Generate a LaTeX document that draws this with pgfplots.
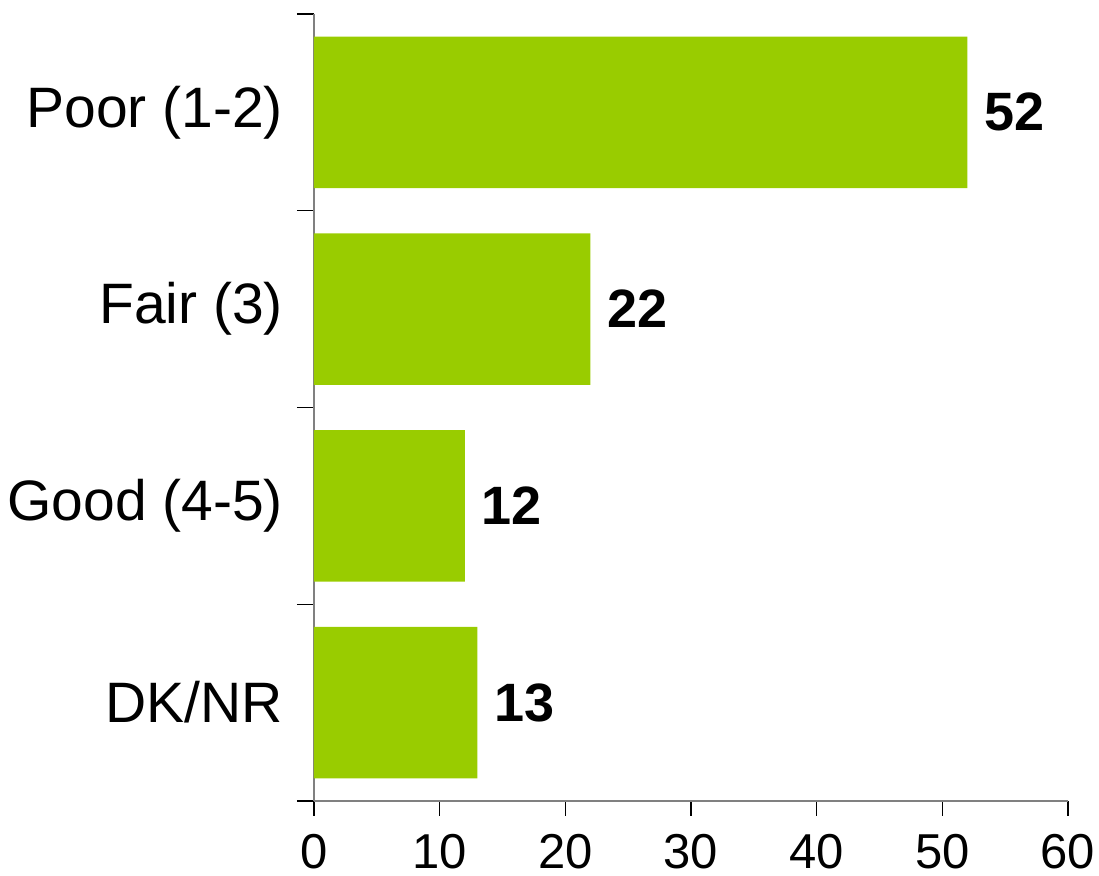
\documentclass[border=0pt]{standalone}
\usepackage{pgfplots}
\pgfplotsset{compat=1.18}
\usepackage{fontspec}
\setmainfont{Liberation Sans}
\usetikzlibrary{calc}
\definecolor{bargreen}{HTML}{99CC00}
\definecolor{axisgray}{HTML}{808080}
\begin{document}
\begin{tikzpicture}
  \begin{axis}[
      scale only axis,
      width=377pt, height=393.5pt,
      xbar,
      xmin=0, xmax=60,
      ymin=-0.5, ymax=3.5,
      y dir=reverse,
      axis lines=left,
      axis line style={axisgray, line width=1pt, -},
      xtick={0,10,...,60},
      ytick={0,1,2,3},
      yticklabels={Poor (1-2),Fair (3),Good (4-5),DK/NR},
      minor ytick={-0.5,0.5,1.5,2.5,3.5},
      y tick style={draw=none},
      minor y tick style={draw=black, line width=0.6pt},
      minor tick length=8.5pt,
      x tick style={black, line width=0.6pt},
      major tick length=7.5pt,
      tick align=outside,
      xtick pos=bottom, ytick pos=left,
      /pgf/number format/assume math mode=true,
      yticklabel style={font=\fontsize{28.5}{34}\selectfont, xshift=-4.5pt},
      xticklabel style={font=\fontsize{24.5}{30}\selectfont, yshift=-5.5pt},
      bar width=0.77,
      nodes near coords,
      every node near coord/.append style={font=\bfseries\fontsize{27}{32}\selectfont, anchor=west, xshift=5pt},
      clip=false,
    ]
    \addplot[fill=bargreen, draw=none] coordinates {
      (52,0) (22,1) (12,2) (13,3)
    };
  \end{axis}
  \pgfresetboundingbox
  \path[use as bounding box] ($(current axis.south west)+(-157pt,-37.5pt)$) rectangle ($(current axis.south west)+(392.5pt,400.5pt)$);
\end{tikzpicture}
\end{document}
